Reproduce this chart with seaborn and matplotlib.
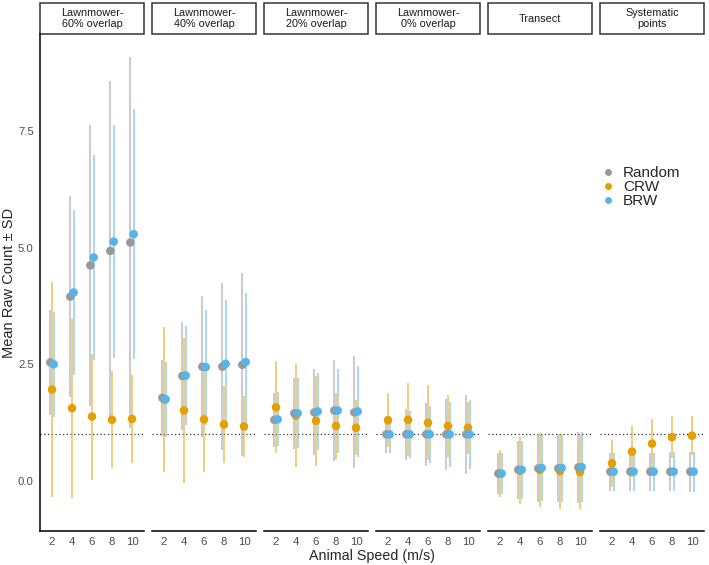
import numpy as np
import pandas as pd
import matplotlib
matplotlib.use("Agg")
import matplotlib.pyplot as plt
from matplotlib.patches import Rectangle
from matplotlib.lines import Line2D
import seaborn as sns

surveys = ["Lawnmower-\n60% overlap", "Lawnmower-\n40% overlap", "Lawnmower-\n20% overlap",
           "Lawnmower-\n0% overlap", "Transect", "Systematic\npoints"]
speeds = [2, 4, 6, 8, 10]
models = ["Random", "CRW", "BRW"]
palette = {"Random": "#999999", "CRW": "#E69F00", "BRW": "#56B4E9"}

# rows = survey, cols = speed
random_mean = [
    [2.54, 3.95, 4.62, 4.93, 5.11],
    [1.78, 2.25, 2.45, 2.45, 2.49],
    [1.31, 1.45, 1.47, 1.51, 1.47],
    [1.00, 1.00, 1.00, 1.00, 1.00],
    [0.16, 0.24, 0.27, 0.27, 0.29],
    [0.20, 0.20, 0.20, 0.20, 0.20],
]
random_sd = [
    [1.12, 2.16, 3.01, 3.63, 3.98],
    [0.81, 1.16, 1.51, 1.79, 1.96],
    [0.58, 0.76, 0.92, 1.09, 1.20],
    [0.39, 0.55, 0.67, 0.76, 0.84],
    [0.44, 0.62, 0.73, 0.73, 0.76],
    [0.41, 0.41, 0.41, 0.42, 0.43],
]
crw_mean = [
    [1.96, 1.56, 1.38, 1.31, 1.33],
    [1.75, 1.51, 1.32, 1.21, 1.17],
    [1.58, 1.40, 1.29, 1.18, 1.14],
    [1.30, 1.31, 1.25, 1.18, 1.14],
    [0.16, 0.22, 0.24, 0.21, 0.19],
    [0.38, 0.63, 0.80, 0.94, 0.97],
]
crw_sd = [
    [2.30, 1.92, 1.35, 1.04, 0.94],
    [1.56, 1.55, 1.13, 0.83, 0.66],
    [0.99, 1.10, 0.97, 0.70, 0.59],
    [0.58, 0.78, 0.80, 0.66, 0.56],
    [0.50, 0.72, 0.79, 0.80, 0.79],
    [0.50, 0.54, 0.53, 0.45, 0.42],
]
brw_mean = [
    [2.50, 4.04, 4.79, 5.13, 5.29],
    [1.75, 2.26, 2.44, 2.51, 2.55],
    [1.32, 1.45, 1.49, 1.51, 1.49],
    [1.00, 1.00, 1.00, 1.00, 1.00],
    [0.16, 0.24, 0.28, 0.28, 0.30],
    [0.20, 0.20, 0.20, 0.20, 0.20],
]
brw_sd = [
    [1.13, 1.77, 2.19, 2.50, 2.67],
    [0.80, 1.07, 1.23, 1.36, 1.47],
    [0.58, 0.75, 0.83, 0.90, 0.97],
    [0.40, 0.50, 0.61, 0.70, 0.74],
    [0.43, 0.62, 0.71, 0.72, 0.75],
    [0.41, 0.41, 0.41, 0.42, 0.43],
]

# long table, drawing order CRW -> Random -> BRW
draw_order = ["CRW", "Random", "BRW"]
stats = {"Random": (random_mean, random_sd), "CRW": (crw_mean, crw_sd), "BRW": (brw_mean, brw_sd)}
dodge = {"Random": -0.083, "CRW": 0.0, "BRW": 0.083}
rows = []
for m in draw_order:
    mean, sd = stats[m]
    for i, s in enumerate(surveys):
        for j, sp in enumerate(speeds):
            rows.append(dict(survey=s, speed=sp, model=m, mean=mean[i][j], sd=sd[i][j],
                             xpos=j + 1 + dodge[m]))
df = pd.DataFrame(rows)

sns.set_style("white")
plt.rcParams["font.family"] = ["Liberation Sans", "DejaVu Sans"]

W, H = 709, 565
fig, axes = plt.subplots(1, 6, figsize=(W / 100, H / 100), dpi=100, sharey=True)
top_px, bot_px = 34.3, 530.7
fig.subplots_adjust(left=40 / W, right=704 / W, bottom=1 - bot_px / H, top=1 - top_px / H,
                    wspace=8 / 104)
panel_h = bot_px - top_px

for ax, s in zip(axes, surveys):
    sub = df[df.survey == s]
    ax.axhline(1, color="#333333", ls=(0, (1, 2)), lw=0.9, zorder=1)
    for m in draw_order:
        d = sub[sub.model == m]
        ax.vlines(d.xpos, d["mean"] - d["sd"], d["mean"] + d["sd"], colors=palette[m],
                  alpha=0.6, lw=1.2, zorder=2)
    sns.scatterplot(data=sub, x="xpos", y="mean", hue="model", palette=palette,
                    s=38, linewidth=0, legend=False, ax=ax, zorder=3)
    ax.set_xlim(0.4, 5.6)
    ax.set_ylim(-1.065, 9.571)
    ax.set_xticks(range(1, 6))
    ax.set_xticklabels([str(v) for v in speeds])
    ax.set_xlabel("")
    ax.set_ylabel("")
    ax.tick_params(axis="both", length=3, width=0.8, color="#333333", labelcolor="#4D4D4D",
                   labelsize=8.2, pad=1.5)
    for side in ["top", "right", "left"]:
        ax.spines[side].set_visible(False)
    ax.spines["bottom"].set_color("black")
    ax.spines["bottom"].set_linewidth(1.1)
    # strip box
    sh = 31 / panel_h
    ax.add_patch(Rectangle((0, 1), 1, sh, transform=ax.transAxes, clip_on=False,
                           facecolor="white", edgecolor="#333333", lw=1.1))
    ax.text(0.5, 1 + sh / 2, s, transform=ax.transAxes, ha="center", va="center",
            fontsize=7.8, color="#1A1A1A", linespacing=1.1)

axes[0].spines["left"].set_visible(True)
axes[0].spines["left"].set_color("black")
axes[0].spines["left"].set_linewidth(1.1)
axes[0].set_yticks([0, 2.5, 5.0, 7.5])
axes[0].set_yticklabels(["0.0", "2.5", "5.0", "7.5"])
for ax in axes[1:]:
    ax.tick_params(axis="y", left=False, labelleft=False)

fig.text(9.5 / W, 1 - (top_px + bot_px) / 2 / H, "Mean Raw Count \u00b1 SD", rotation=90,
         ha="center", va="center", fontsize=10.5)
fig.text(372 / W, 1 - 556 / H, "Animal Speed (m/s)", ha="center", va="center", fontsize=10.3)

handles = [Line2D([], [], ls="", marker="o", ms=5, mec="none", mfc=palette[m]) for m in models]
fig.legend(handles, models, loc="center left", bbox_to_anchor=(600 / W, 1 - 187 / H),
           frameon=False, fontsize=11, handlelength=1.0, handletextpad=0.5,
           labelspacing=0.0, borderpad=0, borderaxespad=0)

fig.savefig("out.png", dpi=100)
